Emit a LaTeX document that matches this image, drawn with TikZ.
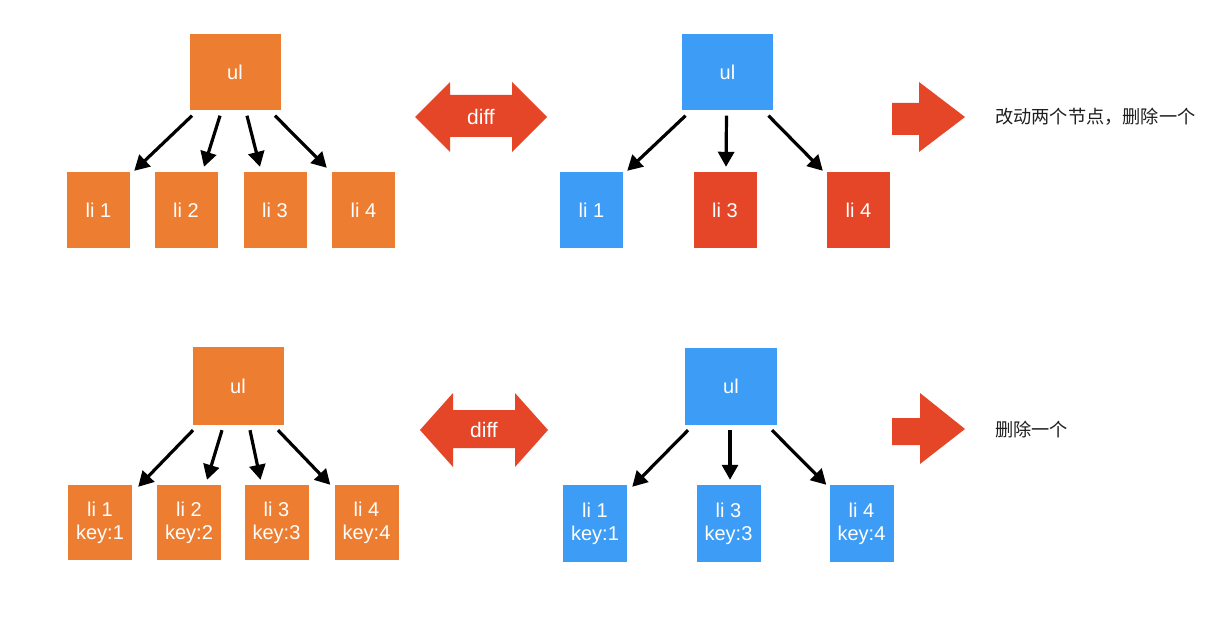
\documentclass[tikz,border=0pt]{standalone}
\usepackage{fontspec}
\setmainfont{Liberation Sans}
\newfontfamily\cjk{Noto Sans CJK SC}
\usetikzlibrary{arrows.meta}
\definecolor{vorange}{RGB}{237,125,49}
\definecolor{vblue}{RGB}{61,157,246}
\definecolor{vred}{RGB}{230,70,40}
\definecolor{vtext}{RGB}{30,30,30}
\tikzset{
  box/.style={fill=#1, draw=none, text=white, inner sep=0pt, align=center,
    font=\fontsize{20}{23}\selectfont},
  rootbox/.style={box=#1, minimum width=91pt, minimum height=76pt},
  leafbox/.style={box=#1, minimum width=63pt, minimum height=76pt},
  link/.style={draw=black, line width=3.2pt, -{Triangle[length=15pt,width=16pt]}, shorten >=0pt},
  fat/.style={fill=vred, draw=none},
  difflabel/.style={text=white, font=\fontsize{21}{23}\selectfont, inner sep=0pt},
  note/.style={text=vtext, anchor=west, inner sep=0pt, font=\cjk\fontsize{18.2}{20}\selectfont}
}
\begin{document}
\begin{tikzpicture}[x=1pt,y=-1pt]
\useasboundingbox (0,0) rectangle (1225,631);
\fill[white] (0,0) rectangle (1225,631);

% ---------- top-left tree ----------
\node[rootbox=vorange] (ulA) at (235,72.5) {ul};
\node[leafbox=vorange] (a1) at (98.5,210) {li 1};
\node[leafbox=vorange] (a2) at (186,210) {li 2};
\node[leafbox=vorange] (a3) at (275,210) {li 3};
\node[leafbox=vorange] (a4) at (363.5,210) {li 4};
\draw[link] ([xshift=-43pt,yshift=-5pt]ulA.south) -- ([xshift=4pt,yshift=1pt]a1.north east);
\draw[link] ([xshift=-15pt,yshift=-5pt]ulA.south) -- ([xshift=18pt,yshift=5pt]a2.north);
\draw[link] ([xshift=12pt,yshift=-5pt]ulA.south) -- ([xshift=-15pt,yshift=5pt]a3.north);
\draw[link] ([xshift=40pt,yshift=-5pt]ulA.south) -- ([xshift=-5pt,yshift=4pt]a4.north west);

% ---------- top-right tree ----------
\node[rootbox=vblue] (ulB) at (727.5,72.5) {ul};
\node[leafbox=vblue] (b1) at (591.5,210) {li 1};
\node[leafbox=vred] (b3) at (725,210) {li 3};
\node[leafbox=vred] (b4) at (858.5,210) {li 4};
\draw[link] ([xshift=-42pt,yshift=-5pt]ulB.south) -- ([xshift=4pt,yshift=1pt]b1.north east);
\draw[link] ([xshift=-1pt,yshift=-5pt]ulB.south) -- ([xshift=1pt,yshift=5pt]b3.north);
\draw[link] ([xshift=41pt,yshift=-5pt]ulB.south) -- ([xshift=-4pt,yshift=1pt]b4.north west);

% ---------- bottom-left tree ----------
\node[rootbox=vorange, minimum height=78pt] (ulC) at (238,386) {ul};
\node[leafbox=vorange, minimum width=64pt, minimum height=75pt] (c1) at (100,522.5) {li 1\\key:1};
\node[leafbox=vorange, minimum width=64pt, minimum height=75pt] (c2) at (189,522.5) {li 2\\key:2};
\node[leafbox=vorange, minimum width=64pt, minimum height=75pt] (c3) at (276.5,522.5) {li 3\\key:3};
\node[leafbox=vorange, minimum width=64pt, minimum height=75pt] (c4) at (366.5,522.5) {li 4\\key:4};
\draw[link] ([xshift=-45pt,yshift=-5pt]ulC.south) -- ([xshift=6pt,yshift=-2pt]c1.north east);
\draw[link] ([xshift=-16pt,yshift=-5pt]ulC.south) -- ([xshift=18pt,yshift=5pt]c2.north);
\draw[link] ([xshift=12pt,yshift=-5pt]ulC.south) -- ([xshift=-16pt,yshift=5pt]c3.north);
\draw[link] ([xshift=40pt,yshift=-5pt]ulC.south) -- ([xshift=-4pt,yshift=0pt]c4.north west);

% ---------- bottom-right tree ----------
\node[rootbox=vblue, minimum width=92pt, minimum height=77pt] (ulD) at (731,386.5) {ul};
\node[leafbox=vblue, minimum width=64pt, minimum height=77pt] (d1) at (595,523.5) {li 1\\key:1};
\node[leafbox=vblue, minimum width=64pt, minimum height=77pt] (d3) at (728.5,523.5) {li 3\\key:3};
\node[leafbox=vblue, minimum width=64pt, minimum height=77pt] (d4) at (861.5,523.5) {li 4\\key:4};
\draw[link] ([xshift=-43pt,yshift=-5pt]ulD.south) -- ([xshift=5pt,yshift=-2pt]d1.north east);
\draw[link] ([xshift=-1pt,yshift=-5pt]ulD.south) -- ([xshift=1.5pt,yshift=5pt]d3.north);
\draw[link] ([xshift=41pt,yshift=-5pt]ulD.south) -- ([xshift=-3pt,yshift=0pt]d4.north west);

% ---------- diff double arrows ----------
\fill[fat] (415,117) -- (450,82) -- (450,95) -- (512,95) -- (512,82) -- (547,117)
  -- (512,152) -- (512,137) -- (450,137) -- (450,152) -- cycle;
\node[difflabel] (diffA) at (481,117) {diff};
\fill[fat] (420,430) -- (453,393) -- (453,410) -- (515,410) -- (515,393) -- (548,430)
  -- (515,467) -- (515,448) -- (453,448) -- (453,467) -- cycle;
\node[difflabel] (diffB) at (484,430) {diff};

% ---------- result arrows ----------
\fill[fat] (892,103) -- (919,103) -- (919,82) -- (965,117) -- (919,152) -- (919,135) -- (892,135) -- cycle;
\node[note] (noteA) at (995,117) {改动两个节点，删除一个};
\fill[fat] (892,418) -- (920,418) -- (920,393) -- (965,429) -- (920,464) -- (920,445) -- (892,445) -- cycle;
\node[note] (noteB) at (995,430) {删除一个};
\end{tikzpicture}
\end{document}
